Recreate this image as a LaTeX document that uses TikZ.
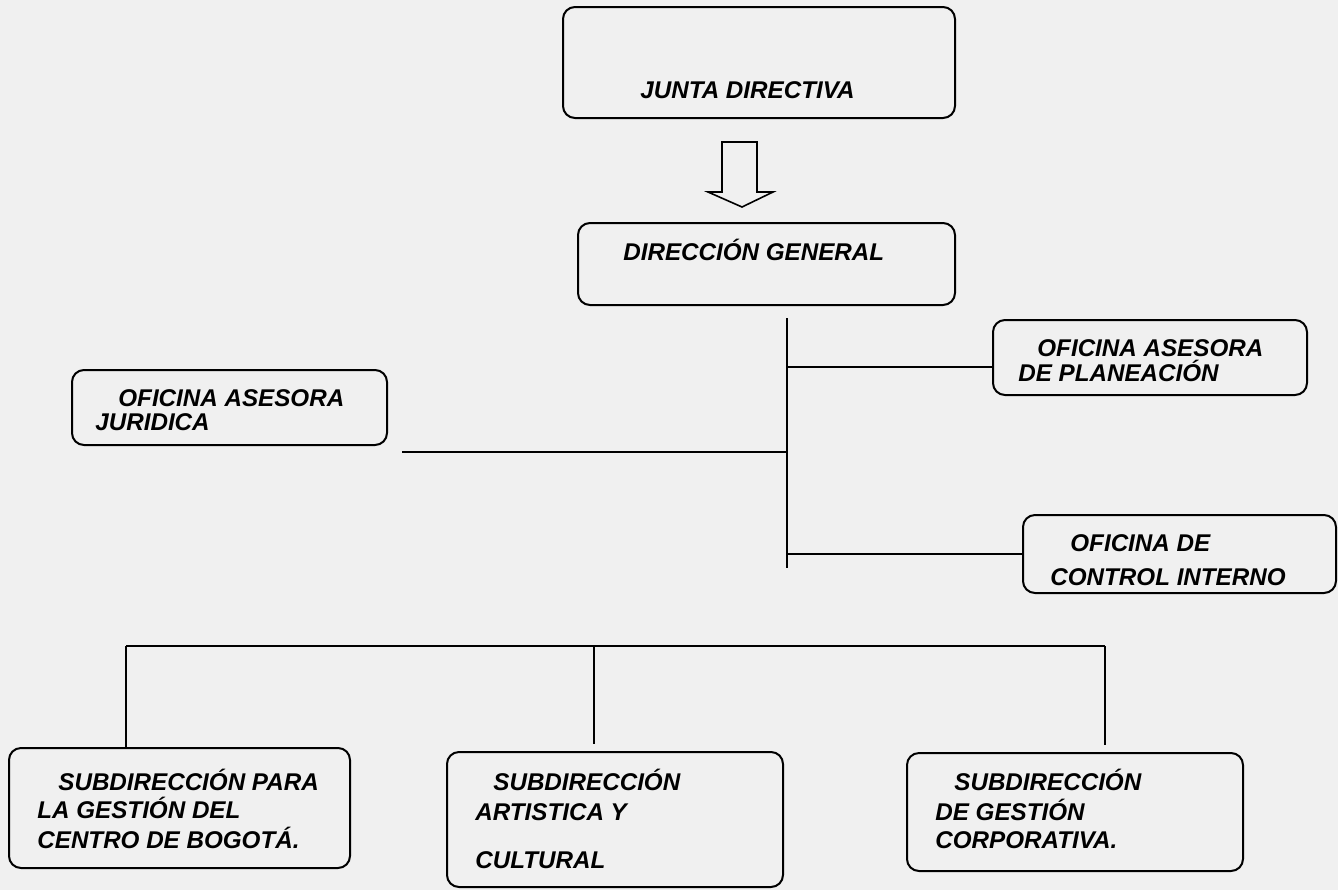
\documentclass[tikz,border=0pt]{standalone}
\usepackage{fontspec}
\setmainfont{Liberation Sans}
\usepackage{tikz}

\begin{document}
\begin{tikzpicture}[x=0.5pt,y=-0.5pt,
  box/.style={draw,rectangle,rounded corners=6pt,line width=1pt,inner sep=0pt},
  lbl/.style={anchor=base west,inner sep=0pt,font=\bfseries\itshape\fontsize{12.1}{14}\selectfont},
  line/.style={line width=1pt},
  thinline/.style={line width=0.6pt}]
\fill [black!6] (0,0) rectangle (1338,890);
\useasboundingbox (0,0) rectangle (1338,890);
% boxes
\node [box,minimum width=196pt,minimum height=55.5pt] (junta) at(759,62.5){};
\node [box,minimum width=188.5pt,minimum height=41pt] (dg) at(766.5,264){};
\node [box,minimum width=157.5pt,minimum height=37.5pt] (jur) at(229.5,407.5){};
\node [box,minimum width=157pt,minimum height=37.5pt] (plan) at(1150,357.5){};
\node [box,minimum width=156.5pt,minimum height=39pt] (ctrl) at(1179.5,554){};
\node [box,minimum width=170.5pt,minimum height=60pt] (sub1) at(179.5,808){};
\node [box,minimum width=168pt,minimum height=67.5pt] (sub2) at(615,819.5){};
\node [box,minimum width=168pt,minimum height=59pt] (sub3) at(1075,812){};
% texts
\node [lbl] (junta1) at(640,98){JUNTA DIRECTIVA};
\node [lbl] (dg1) at(623,260){DIRECCIÓN GENERAL};
\node [lbl] (jur1) at(118,406){OFICINA ASESORA};
\node [lbl] (jur2) at(95,430){JURIDICA};
\node [lbl] (plan1) at(1037,356){OFICINA ASESORA};
\node [lbl] (plan2) at(1018,381){DE PLANEACIÓN};
\node [lbl] (ctrl1) at(1070,551){OFICINA DE};
\node [lbl] (ctrl2) at(1050,585){CONTROL INTERNO};
\node [lbl] (sub1a) at(58,790){SUBDIRECCIÓN PARA};
\node [lbl] (sub1b) at(37,818){LA GESTIÓN DEL};
\node [lbl] (sub1c) at(37,848){CENTRO DE BOGOTÁ.};
\node [lbl] (sub2a) at(493,790){SUBDIRECCIÓN};
\node [lbl] (sub2b) at(475,820){ARTISTICA Y};
\node [lbl] (sub2c) at(475,868){CULTURAL};
\node [lbl] (sub3a) at(954,790){SUBDIRECCIÓN};
\node [lbl] (sub3b) at(935,820){DE GESTIÓN};
\node [lbl] (sub3c) at(935,848){CORPORATIVA.};
% hollow arrow
\draw [line width=0.8pt] (722,142) -- (757,142) -- (757,192) -- (773,192) -- (742,207)
  -- (708,192) -- (722,192) -- cycle;
% trunk
\coordinate (top) at(787,318);
\coordinate (bot) at(787,568);
\coordinate (jp) at(787,367);
\coordinate (jj) at(787,452);
\coordinate (jjend) at(402,452);
\draw [line] (top) -- (bot);
\draw [line] (jp) -- (jp -| plan.west);
\draw [line] (jj) -- (jjend);
\draw [line] (ctrl.west -| top) -- (ctrl.west);
% lower bus
\coordinate (busl) at(126,646);
\coordinate (busm) at(594,646);
\coordinate (busr) at(1105,646);
\draw [line] (busl) -- (busr);
\draw [thinline] (busl) -- (busl |- sub1.north);
\draw [thinline] (busm) -- (594,744);
\draw [thinline] (busr) -- (1105,745);
\end{tikzpicture}
\end{document}
